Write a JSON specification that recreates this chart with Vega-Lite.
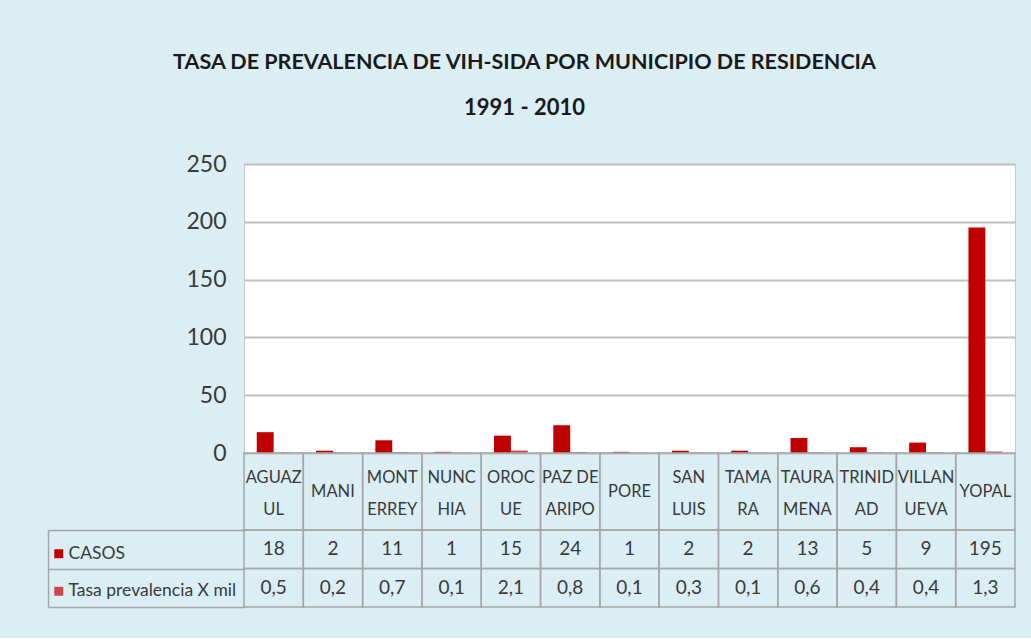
{
  "$schema": "https://vega.github.io/schema/vega-lite/v6.json",
  "background": "#DBEEF4",
  "padding": {"left": 47, "top": 52, "right": 16, "bottom": 30},
  "title": {
    "text": "TASA DE PREVALENCIA DE VIH-SIDA POR MUNICIPIO DE RESIDENCIA",
    "subtitle": "1991 - 2010",
    "anchor": "middle",
    "frame": "bounds",
    "dx": -7,
    "offset": 34
  },
  "config": {
    "font": "Lato",
    "locale": {"number": {"decimal": ",", "thousands": ".", "grouping": [3], "currency": ["$", ""]}},
    "title": {"font": "Lato", "fontSize": 21.5, "fontWeight": "bold", "color": "#1A1A1A", "subtitleFont": "Lato", "subtitleFontSize": 22, "subtitleFontWeight": "bold", "subtitleColor": "#1A1A1A", "subtitlePadding": 24},
    "concat": {"spacing": 0}
  },
  "data": {
    "values": [
      {"m": "AGUAZUL", "l1": "AGUAZ", "l2": "UL", "solo": "", "CASOS": 18, "Tasa prevalencia X mil": 0.5},
      {"m": "MANI", "l1": "", "l2": "", "solo": "MANI", "CASOS": 2, "Tasa prevalencia X mil": 0.2},
      {"m": "MONTERREY", "l1": "MONT", "l2": "ERREY", "solo": "", "CASOS": 11, "Tasa prevalencia X mil": 0.7},
      {"m": "NUNCHIA", "l1": "NUNC", "l2": "HIA", "solo": "", "CASOS": 1, "Tasa prevalencia X mil": 0.1},
      {"m": "OROCUE", "l1": "OROC", "l2": "UE", "solo": "", "CASOS": 15, "Tasa prevalencia X mil": 2.1},
      {"m": "PAZ DE ARIPORO", "l1": "PAZ DE", "l2": "ARIPO", "solo": "", "CASOS": 24, "Tasa prevalencia X mil": 0.8},
      {"m": "PORE", "l1": "", "l2": "", "solo": "PORE", "CASOS": 1, "Tasa prevalencia X mil": 0.1},
      {"m": "SAN LUIS", "l1": "SAN", "l2": "LUIS", "solo": "", "CASOS": 2, "Tasa prevalencia X mil": 0.3},
      {"m": "TAMARA", "l1": "TAMA", "l2": "RA", "solo": "", "CASOS": 2, "Tasa prevalencia X mil": 0.1},
      {"m": "TAURAMENA", "l1": "TAURA", "l2": "MENA", "solo": "", "CASOS": 13, "Tasa prevalencia X mil": 0.6},
      {"m": "TRINIDAD", "l1": "TRINID", "l2": "AD", "solo": "", "CASOS": 5, "Tasa prevalencia X mil": 0.4},
      {"m": "VILLANUEVA", "l1": "VILLAN", "l2": "UEVA", "solo": "", "CASOS": 9, "Tasa prevalencia X mil": 0.4},
      {"m": "YOPAL", "l1": "", "l2": "", "solo": "YOPAL", "CASOS": 195, "Tasa prevalencia X mil": 1.3}
    ]
  },
  "bounds": "flush",
  "resolve": {"scale": {"x": "independent", "y": "independent"}},
  "vconcat": [
    {
      "width": 771,
      "height": 289,
      "view": {"fill": "white", "stroke": "#C8C8C8", "strokeWidth": 1},
      "transform": [{"fold": ["CASOS", "Tasa prevalencia X mil"], "as": ["serie", "valor"]}],
      "mark": {"type": "bar"},
      "encoding": {
        "x": {"field": "m", "type": "nominal", "sort": null, "axis": null, "scale": {"paddingInner": 0.43, "paddingOuter": 0.215}},
        "xOffset": {"field": "serie", "type": "nominal", "sort": null},
        "y": {
          "field": "valor", "type": "quantitative",
          "scale": {"domain": [0, 250], "nice": false},
          "axis": {"title": null, "values": [0, 50, 100, 150, 200, 250], "format": "d", "domain": false, "ticks": false, "grid": true, "gridColor": "#BFBFBF", "gridWidth": 2, "labelFontSize": 23, "labelColor": "#3A3A3A", "labelPadding": 18, "labelFont": "Lato"}
        },
        "color": {
          "field": "serie", "type": "nominal", "sort": null,
          "scale": {"domain": ["CASOS", "Tasa prevalencia X mil"], "range": ["#C00000", "#D04545"]},
          "legend": {"orient": "none", "legendX": -194, "legendY": 381, "title": null, "direction": "vertical", "symbolType": "square", "symbolSize": 80, "symbolStrokeWidth": 0, "labelFontSize": 17.5, "labelColor": "#3A3A3A", "labelFont": "Lato", "rowPadding": 18.5, "labelOffset": 1, "labelLimit": 200}
        }
      }
    },
    {
      "width": 771,
      "height": 77,
      "view": {"stroke": null},
      "encoding": {
        "x": {"field": "m", "type": "nominal", "sort": null, "axis": null, "scale": {"padding": 0}}
      },
      "layer": [
        {"mark": {"type": "rect", "fill": "transparent", "stroke": "#A6A6A6", "strokeWidth": 1.5}},
        {"mark": {"type": "text", "fontSize": 16.5, "color": "#3A3A3A", "baseline": "middle", "align": "center", "dy": -14},
         "encoding": {"text": {"field": "l1", "type": "nominal"}}},
        {"mark": {"type": "text", "fontSize": 16.5, "color": "#3A3A3A", "baseline": "middle", "align": "center", "dy": 18},
         "encoding": {"text": {"field": "l2", "type": "nominal"}}},
        {"mark": {"type": "text", "fontSize": 16.5, "color": "#3A3A3A", "baseline": "middle", "align": "center"},
         "encoding": {"text": {"field": "solo", "type": "nominal"}}}
      ]
    },
    {
      "width": 771,
      "height": 77,
      "view": {"stroke": null},
      "transform": [{"fold": ["CASOS", "Tasa prevalencia X mil"], "as": ["serie", "valor"]}],
      "encoding": {
        "x": {"field": "m", "type": "nominal", "sort": null, "axis": null, "scale": {"padding": 0}},
        "y": {"field": "serie", "type": "nominal", "sort": null, "scale": {"padding": 0},
          "axis": {"title": null, "labels": false, "offset": 196, "tickSize": -196, "tickBand": "extent", "tickColor": "#A6A6A6", "tickWidth": 1.5, "domainColor": "#A6A6A6", "domainWidth": 1.5}}
      },
      "layer": [
        {"mark": {"type": "rect", "fill": "transparent", "stroke": "#A6A6A6", "strokeWidth": 1.5}},
        {"mark": {"type": "text", "fontSize": 19, "color": "#3A3A3A", "baseline": "middle", "align": "center"},
         "encoding": {"text": {"field": "valor", "type": "quantitative", "format": "~g"}}}
      ]
    }
  ]
}
